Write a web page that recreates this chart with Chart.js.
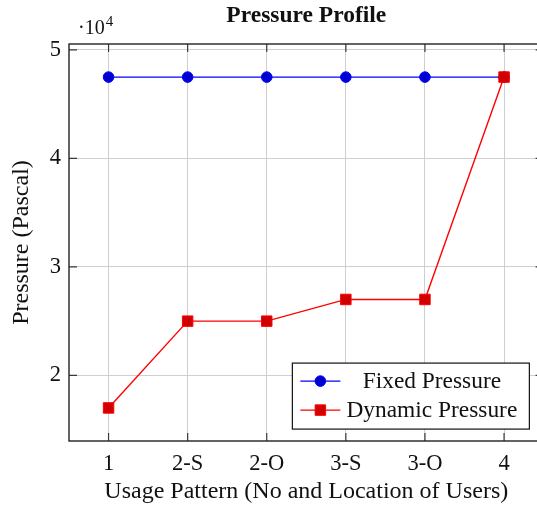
<!DOCTYPE html>
<html>
<head>
<meta charset="utf-8">
<script src="https://cdn.jsdelivr.net/npm/chart.js@4/dist/chart.umd.min.js"></script>
<style>
  html, body { margin: 0; padding: 0; background: #ffffff; overflow: hidden; }
  #wrap { width: 552px; height: 506px; }
</style>
</head>
<body>
<div id="wrap"><canvas id="chart" width="552" height="506"></canvas></div>
<script>
// Usage patterns on the x axis
const categories = ['1', '2-S', '2-O', '3-S', '3-O', '4'];
// Pressure in pascal for each usage pattern
const fixedPressure = [47500, 47500, 47500, 47500, 47500, 47500];
const dynamicPressure = [17000, 25000, 25000, 27000, 27000, 47500];
// Major ticks on the pressure axis
const yTickValues = [20000, 30000, 40000, 50000];
const yScaleFactor = 10000;

const SERIF = '"Liberation Serif", "Times New Roman", serif';
const TICK_SIZE = 22.5;
const LABEL_SIZE = 24;
const LEGEND_SIZE = 23.4;

// Frame, inward tick marks, exponent note and boxed legend
const axisDecor = {
  id: 'axisDecor',
  afterDatasetsDraw(chart) {
    const { ctx, chartArea: a, scales } = chart;
    const tickLen = 8;
    ctx.save();
    // inward ticks
    ctx.strokeStyle = '#3a3a3a';
    ctx.lineWidth = 1.2;
    ctx.beginPath();
    scales.x.ticks.forEach((t, i) => {
      const px = scales.x.getPixelForTick(i);
      ctx.moveTo(px, a.bottom); ctx.lineTo(px, a.bottom - tickLen);
      ctx.moveTo(px, a.top); ctx.lineTo(px, a.top + tickLen);
    });
    scales.y.ticks.forEach(t => {
      const py = scales.y.getPixelForValue(t.value);
      ctx.moveTo(a.left, py); ctx.lineTo(a.left + tickLen, py);
      ctx.moveTo(a.right, py); ctx.lineTo(a.right - tickLen, py);
    });
    ctx.stroke();
    // frame
    ctx.strokeStyle = '#222222';
    ctx.lineWidth = 1.4;
    ctx.strokeRect(a.left, a.top, a.right - a.left, a.bottom - a.top);

    // exponent of the pressure axis
    ctx.fillStyle = '#111111';
    ctx.textBaseline = 'alphabetic';
    ctx.textAlign = 'left';
    ctx.font = `20px ${SERIF}`;
    const base = '\u00b710';
    ctx.fillText(base, a.left + 9, a.top - 10);
    const bw = ctx.measureText(base).width;
    ctx.font = `15px ${SERIF}`;
    ctx.fillText('4', a.left + 9 + bw + 1, a.top - 18);

    // legend (south east)
    const w = a.right - a.left, h = a.bottom - a.top;
    const boxW = 237, boxH = 66;
    const bx = a.right - 0.03 * w - boxW;
    const by = a.bottom - 0.03 * h - boxH;
    ctx.fillStyle = '#ffffff';
    ctx.fillRect(bx, by, boxW, boxH);
    ctx.strokeStyle = '#111111';
    ctx.lineWidth = 1.2;
    ctx.strokeRect(bx, by, boxW, boxH);
    const entries = [chart.data.datasets[1], chart.data.datasets[0]];
    entries.forEach((ds, i) => {
      const cy = by + 18 + i * 29;
      const x0 = bx + 8, x1 = bx + 48, xm = (x0 + x1) / 2;
      ctx.strokeStyle = ds.borderColor;
      ctx.lineWidth = ds.borderWidth;
      ctx.beginPath(); ctx.moveTo(x0, cy); ctx.lineTo(x1, cy); ctx.stroke();
      ctx.fillStyle = ds.pointBackgroundColor;
      ctx.strokeStyle = ds.pointBorderColor;
      ctx.lineWidth = 1;
      Chart.helpers.drawPoint(ctx, { pointStyle: ds.pointStyle, radius: ds.pointRadius, borderWidth: 1 }, xm, cy);
      ctx.fillStyle = '#111111';
      ctx.font = `${LEGEND_SIZE}px ${SERIF}`;
      ctx.textAlign = 'center';
      ctx.textBaseline = 'middle';
      ctx.fillText(ds.label, bx + 139.5, cy + 1);
    });
    ctx.restore();
  }
};

new Chart(document.getElementById('chart'), {
  type: 'line',
  data: {
    labels: categories,
    datasets: [
      {
        label: 'Dynamic Pressure',
        data: dynamicPressure,
        order: 0,
        borderColor: '#ff0000',
        borderWidth: 1.4,
        pointStyle: 'rect',
        pointRadius: 7.4,
        pointHoverRadius: 7.4,
        pointBackgroundColor: '#d00000',
        pointBorderColor: '#ff0000',
        pointBorderWidth: 1,
        tension: 0
      },
      {
        label: 'Fixed Pressure',
        data: fixedPressure,
        order: 1,
        borderColor: '#0000ff',
        borderWidth: 1.4,
        pointStyle: 'circle',
        pointRadius: 5.3,
        pointHoverRadius: 5.3,
        pointBackgroundColor: '#0000d0',
        pointBorderColor: '#0000ff',
        pointBorderWidth: 1,
        tension: 0
      }
    ]
  },
  options: {
    responsive: false,
    animation: false,
    events: [],
    layout: { padding: { left: 0, right: 7, top: 0, bottom: 0 } },
    plugins: {
      legend: { display: false },
      tooltip: { enabled: false },
      title: {
        display: true,
        text: 'Pressure Profile',
        fullSize: false,
        color: '#111111',
        font: { family: SERIF, size: 23.5, weight: 'bold', lineHeight: 1 },
        padding: { top: 4.5, bottom: 16 }
      }
    },
    scales: {
      x: {
        type: 'category',
        offset: true,
        grid: { display: true, offset: false, color: '#cfcfcf', lineWidth: 1, drawTicks: false },
        border: { display: false },
        ticks: { color: '#111111', font: { family: SERIF, size: TICK_SIZE }, padding: 10, maxRotation: 0, autoSkip: false },
        title: {
          display: true,
          text: 'Usage Pattern (No and Location of Users)',
          color: '#111111',
          font: { family: SERIF, size: LABEL_SIZE, lineHeight: 1.2 },
          padding: { top: 0, bottom: 0 }
        },
        afterFit(scale) { scale.height = 65; }
      },
      y: {
        type: 'linear',
        min: 13950,
        max: 50550,
        grid: { display: true, color: '#cfcfcf', lineWidth: 1, drawTicks: false },
        border: { display: false },
        afterBuildTicks(scale) { scale.ticks = yTickValues.map(v => ({ value: v })); },
        ticks: {
          color: '#111111',
          font: { family: SERIF, size: TICK_SIZE },
          padding: 8,
          callback: v => String(v / yScaleFactor)
        },
        title: {
          display: true,
          text: 'Pressure (Pascal)',
          color: '#111111',
          font: { family: SERIF, size: LABEL_SIZE, lineHeight: 1.2 },
          padding: { top: 7, bottom: 0 }
        },
        afterFit(scale) { scale.width = 69; }
      }
    }
  },
  plugins: [axisDecor]
});
</script>
</body>
</html>
